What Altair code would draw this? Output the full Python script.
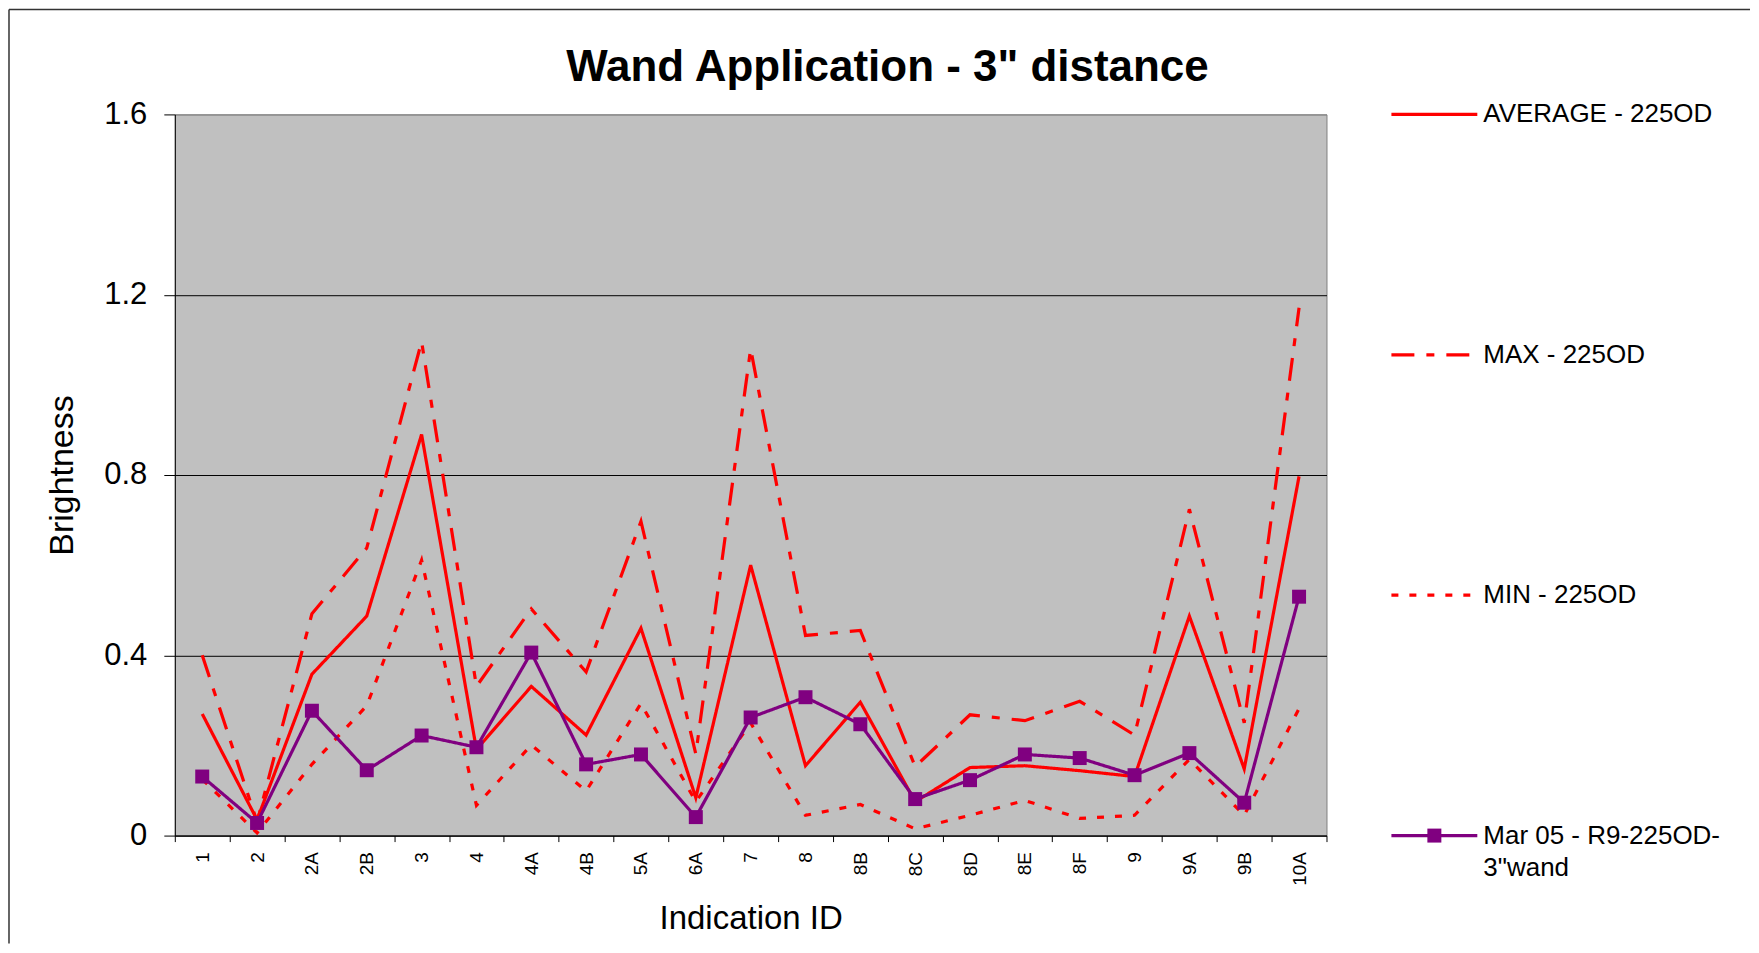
import altair as alt
import pandas as pd

categories = ["1", "2", "2A", "2B", "3", "4", "4A", "4B", "5A", "6A", "7",
              "8", "8B", "8C", "8D", "8E", "8F", "9", "9A", "9B", "10A"]
average_vals = [0.27, 0.035, 0.358, 0.487, 0.89, 0.191, 0.331, 0.223, 0.46, 0.084, 0.60,
                0.155, 0.296, 0.075, 0.151, 0.155, 0.144, 0.131, 0.487, 0.148, 0.797]
max_vals = [0.40, 0.03, 0.492, 0.638, 1.096, 0.331, 0.503, 0.363, 0.697, 0.181, 1.08,
            0.444, 0.455, 0.153, 0.268, 0.255, 0.298, 0.223, 0.724, 0.25, 1.171]
min_vals = [0.125, 0.006, 0.158, 0.288, 0.611, 0.067, 0.201, 0.099, 0.293, 0.075, 0.25,
            0.045, 0.069, 0.015, 0.045, 0.078, 0.038, 0.045, 0.169, 0.045, 0.282]
mar_vals = [0.131, 0.028, 0.277, 0.145, 0.222, 0.196, 0.406, 0.158, 0.180, 0.041, 0.262,
            0.307, 0.247, 0.081, 0.123, 0.180, 0.172, 0.134, 0.183, 0.073, 0.530]

series_names = ["AVERAGE - 225OD", "MAX - 225OD", "MIN - 225OD", 'Mar 05 - R9-225OD-3"wand']
legend_line1 = ["AVERAGE - 225OD", "MAX - 225OD", "MIN - 225OD", "Mar 05 - R9-225OD-"]
legend_line2 = ["", "", "", '3"wand']
series_colors = ["#FF0000", "#FF0000", "#FF0000", "#800080"]
series_dashes = [[1, 0], [23, 12, 8, 12], [7, 11], [1, 0]]
series_widths = [3.2, 3.2, 3.2, 1]
y_ticks = [0, 0.4, 0.8, 1.2, 1.6]

rows = []
for name, vals in zip(series_names, [average_vals, max_vals, min_vals, mar_vals]):
    for c, v in zip(categories, vals):
        rows.append({"id": c, "series": name, "value": v})
df = pd.DataFrame(rows)
leg_df = pd.DataFrame({"series": series_names, "line1": legend_line1, "line2": legend_line2})

FONT = "Liberation Sans"

color_scale = alt.Scale(domain=series_names, range=series_colors)
dash_scale = alt.Scale(domain=series_names, range=series_dashes)
width_scale = alt.Scale(domain=series_names, range=series_widths)

x_enc = alt.X("id:N", sort=categories, bandPosition=0.5,
              scale=alt.Scale(type="band", domain=categories, paddingInner=0, paddingOuter=0),
              axis=alt.Axis(title="Indication ID", labelAngle=270, labelAlign="right",
                            labelBaseline="middle", labelFontSize=19, labelFont=FONT,
                            labelPadding=10, tickSize=6, tickBand="extent",
                            domainColor="black", tickColor="black", labelColor="black",
                            titleFontSize=33, titleFont=FONT, titleFontWeight="normal",
                            titleColor="black", titlePadding=17, grid=False))
y_enc = alt.Y("value:Q", scale=alt.Scale(domain=[0, 1.6], nice=False),
              axis=alt.Axis(values=y_ticks, format=".1~f", labelFontSize=31, labelFont=FONT,
                            labelColor="black", tickSize=11, labelPadding=17, grid=True,
                            gridColor={"condition": {"test": "datum.value >= 1.5", "value": "#808080"}, "value": "black"},
                            gridWidth=1, domainColor="black", tickColor="black",
                            title="Brightness", titleFontSize=34, titleFont=FONT,
                            titleFontWeight="normal", titleColor="black", titlePadding=24))

lines = alt.Chart(df).mark_line(strokeCap="butt", strokeJoin="miter").encode(
    x=x_enc, y=y_enc,
    color=alt.Color("series:N", scale=color_scale, legend=None),
    strokeDash=alt.StrokeDash("series:N", scale=dash_scale, legend=None),
    strokeWidth=alt.StrokeWidth("series:N", scale=width_scale, legend=None),
)

points = alt.Chart(df).transform_filter(
    alt.datum.series == series_names[3]
).mark_point(shape="square", filled=True, size=196, color="#800080", opacity=1).encode(
    x=alt.X("id:N", sort=categories, bandPosition=0.5), y="value:Q")

# legend (drawn with its own point scale for the entry rows)
leg_y = alt.Y("series:N", sort=series_names,
              scale=alt.Scale(type="point", domain=series_names, padding=0), axis=None)
leg_lines = alt.Chart(leg_df).mark_rule(strokeCap="butt").encode(
    x=alt.value(1218), x2=alt.value(1304), y=leg_y,
    color=alt.Color("series:N", scale=color_scale, legend=None),
    strokeDash=alt.StrokeDash("series:N", scale=dash_scale, legend=None),
    strokeWidth=alt.StrokeWidth("series:N", scale=width_scale, legend=None),
)
leg_square = alt.Chart(leg_df).transform_filter(
    alt.datum.series == series_names[3]
).mark_point(shape="square", filled=True, size=196, color="#800080", opacity=1).encode(
    x=alt.value(1261), y=leg_y)
leg_text1 = alt.Chart(leg_df).mark_text(align="left", baseline="middle", fontSize=26,
                                        font=FONT, color="black").encode(
    x=alt.value(1310), y=leg_y, text="line1:N")
leg_text2 = alt.Chart(leg_df).mark_text(align="left", baseline="middle", fontSize=26,
                                        font=FONT, color="black", dy=32).encode(
    x=alt.value(1310), y=leg_y, text="line2:N")

frame_data = alt.Data(values=[{"k": 1}])
frame_left = alt.Chart(frame_data).mark_rule(color="#333333", strokeWidth=1.5).encode(
    x=alt.value(-166), y=alt.value(-105), y2=alt.value(830))
frame_top = alt.Chart(frame_data).mark_rule(color="#333333", strokeWidth=1.5).encode(
    y=alt.value(-105), x=alt.value(-166), x2=alt.value(1577))

main = alt.layer(lines, points)
leg = alt.layer(leg_lines, leg_square, leg_text1, leg_text2)

chart = alt.layer(frame_left, frame_top, main, leg).resolve_scale(y="independent").properties(
    width=1153, height=722, padding=0,
    title=alt.TitleParams('Wand Application - 3" distance', fontSize=44, font=FONT,
                          fontWeight="bold", color="black", anchor="middle",
                          baseline="alphabetic", offset=-116, dx=137),
).configure(background="white").configure_view(fill="#C0C0C0", stroke="#808080", strokeWidth=1)

chart.save("out.html", embed_options={"renderer": "svg", "actions": False})
